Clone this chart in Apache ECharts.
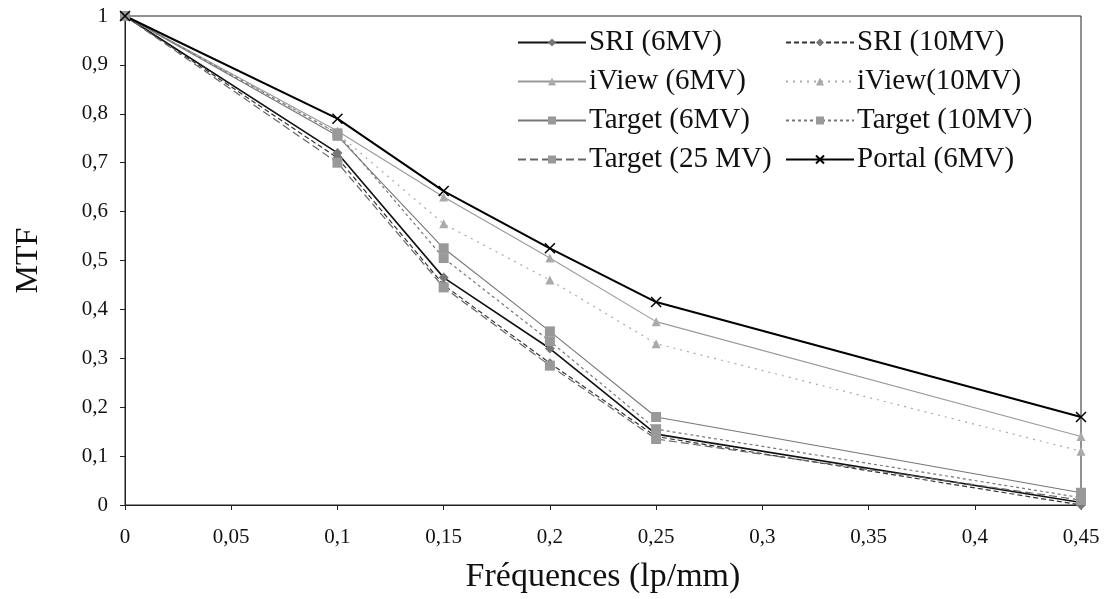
<!DOCTYPE html>
<html><head><meta charset="utf-8">
<script src="https://cdn.jsdelivr.net/npm/echarts@6/dist/echarts.min.js"></script>
<style>html,body{margin:0;padding:0;background:#fff}#c{width:1105px;height:599px}</style>
</head><body><div id="c"></div>
<script>
const freqs = [0, 0.1, 0.15, 0.2, 0.25, 0.45];
const sri6 = [1, 0.72, 0.465, 0.32, 0.145, 0.005];
const sri10 = [1, 0.71, 0.45, 0.29, 0.14, 0.0];
const iview6 = [1, 0.765, 0.63, 0.505, 0.375, 0.14];
const iview10 = [1, 0.76, 0.575, 0.46, 0.33, 0.11];
const target6 = [1, 0.755, 0.525, 0.355, 0.18, 0.025];
const target10 = [1, 0.76, 0.505, 0.335, 0.155, 0.015];
const target25 = [1, 0.70, 0.445, 0.285, 0.135, 0.01];
const portal6 = [1, 0.79, 0.642, 0.525, 0.415, 0.18];
const names = ['SRI (6MV)','SRI (10MV)','iView (6MV)','iView(10MV)','Target (6MV)','Target (10MV)','Target (25 MV)','Portal (6MV)'];

const fmt = v => String(+v.toFixed(2)).replace('.', ',');
const pts = arr => freqs.map((f,i)=>[f, arr[i]]);
const FONT = 'Liberation Serif';
const cross = 'path://M0,0 L10,10 M10,0 L0,10';

function ser(name, data, lineColor, lineType, width, symbol, symColor, size){
  const s = {
    name, type:'line', data: pts(data), symbol, symbolSize: size,
    lineStyle:{color:lineColor, type:lineType, width},
    itemStyle:{color:symColor, borderColor:symColor, borderWidth:0},
    emphasis:{disabled:true}, animation:false, z: 2
  };
  if (symbol === cross) { s.itemStyle = {color:'none', borderColor:symColor, borderWidth:1.5}; }
  return s;
}

const series = [
  ser(names[0], sri6, '#111', 'solid', 1.6, 'diamond', '#777', 10),
  ser(names[1], sri10, '#333', [5,3], 1.2, 'diamond', '#777', 10),
  ser(names[2], iview6, '#999', 'solid', 1.1, 'triangle', '#aaa', 9),
  ser(names[3], iview10, '#aaa', [2,5], 1.2, 'triangle', '#aaa', 9),
  ser(names[4], target6, '#777', 'solid', 1.1, 'rect', '#999', 10),
  ser(names[5], target10, '#777', [3,3], 1.2, 'rect', '#999', 10),
  ser(names[6], target25, '#666', [8,4], 1.2, 'rect', '#999', 10),
  ser(names[7], portal6, '#000', 'solid', 2, cross, '#000', 10)
];

const chart = echarts.init(document.getElementById('c'), null, {renderer:'canvas'});
const legendCommon = {
  orient:'vertical', top: 23, itemGap: 10, itemWidth: 68, itemHeight: 10,
  textStyle:{fontFamily:FONT, fontSize:29, color:'#111', padding:[0,0,0,-2]},
  selectedMode:false
};
chart.setOption({
  animation:false,
  backgroundColor:'#fff',
  grid:{left:125, right:24, top:16, bottom:92, show:true, borderColor:'#222', borderWidth:1},
  legend:[
    Object.assign({}, legendCommon, {left: 512, data:[names[0],names[2],names[4],names[6]]}),
    Object.assign({}, legendCommon, {left: 780, data:[names[1],names[3],names[5],names[7]]})
  ],
  xAxis:{
    type:'value', min:0, max:0.45, interval:0.05,
    name:'Fréquences (lp/mm)', nameLocation:'middle', nameGap:55,
    nameTextStyle:{fontFamily:FONT, fontSize:34, color:'#111'},
    axisLine:{lineStyle:{color:'#222', width:1}},
    axisTick:{show:true, inside:false, length:5, lineStyle:{color:'#222'}},
    axisLabel:{fontFamily:FONT, fontSize:21, color:'#111', margin:22, formatter:fmt},
    splitLine:{show:false}
  },
  yAxis:{
    type:'value', min:0, max:1, interval:0.1,
    name:'MTF', nameLocation:'middle', nameGap:80,
    nameTextStyle:{fontFamily:FONT, fontSize:32, color:'#111'},
    axisLine:{show:true, lineStyle:{color:'#222', width:1}},
    axisTick:{show:true, inside:false, length:5, lineStyle:{color:'#222'}},
    axisLabel:{fontFamily:FONT, fontSize:21, color:'#111', margin:17, formatter:fmt},
    splitLine:{show:false}
  },
  series
});
</script></body></html>
